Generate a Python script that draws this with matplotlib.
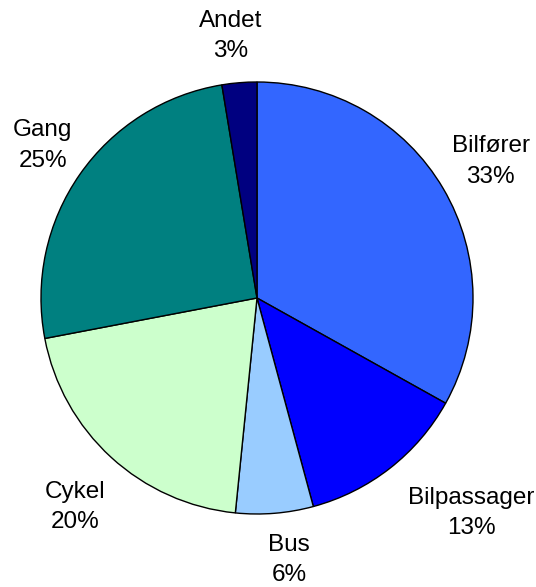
import matplotlib
import numpy as np

matplotlib.use("Agg")
import matplotlib.pyplot as plt  # noqa: E402

# Travel mode shares (percent)
modes = ["Bilfører", "Bilpassager", "Bus", "Cykel", "Gang", "Andet"]
shares = [33.1, 12.7, 5.8, 20.4, 25.4, 2.6]
share_labels = ["33%", "13%", "6%", "20%", "25%", "3%"]
colors = ["#3366FF", "#0000FF", "#99CCFF", "#CCFFCC", "#008080", "#000080"]

# Layout: pixel-space canvas, pie centre and radius, label nudges
W, H = 536, 587
CENTER = (257, H - 298)
RADIUS = 216
LABEL_R = 1.25
NUDGE = [(1, 0), (48, -2), (10, 7), (0, -10), (7, -2), (-4, -7)]

plt.rcParams["font.family"] = ["Liberation Sans", "DejaVu Sans"]

fig = plt.figure(figsize=(W / 100, H / 100), dpi=100)
ax = fig.add_axes([0, 0, 1, 1])

wedges, _ = ax.pie(
    shares,
    colors=colors,
    startangle=90,
    counterclock=False,
    center=CENTER,
    radius=RADIUS,
    wedgeprops={"edgecolor": "black", "linewidth": 1.0},
)
ax.set_xlim(0, W)
ax.set_ylim(0, H)
ax.set_aspect("equal")
ax.axis("off")

for w, name, pct, (dx, dy) in zip(wedges, modes, share_labels, NUDGE):
    mid = np.deg2rad((w.theta1 + w.theta2) / 2)
    x = CENTER[0] + LABEL_R * RADIUS * np.cos(mid) + dx
    y = CENTER[1] + LABEL_R * RADIUS * np.sin(mid) + dy
    ax.text(x, y, f"{name}\n{pct}", ha="center", va="center",
            fontsize=17.5, linespacing=1.5, color="black")

fig.savefig("out.png", dpi=100)
